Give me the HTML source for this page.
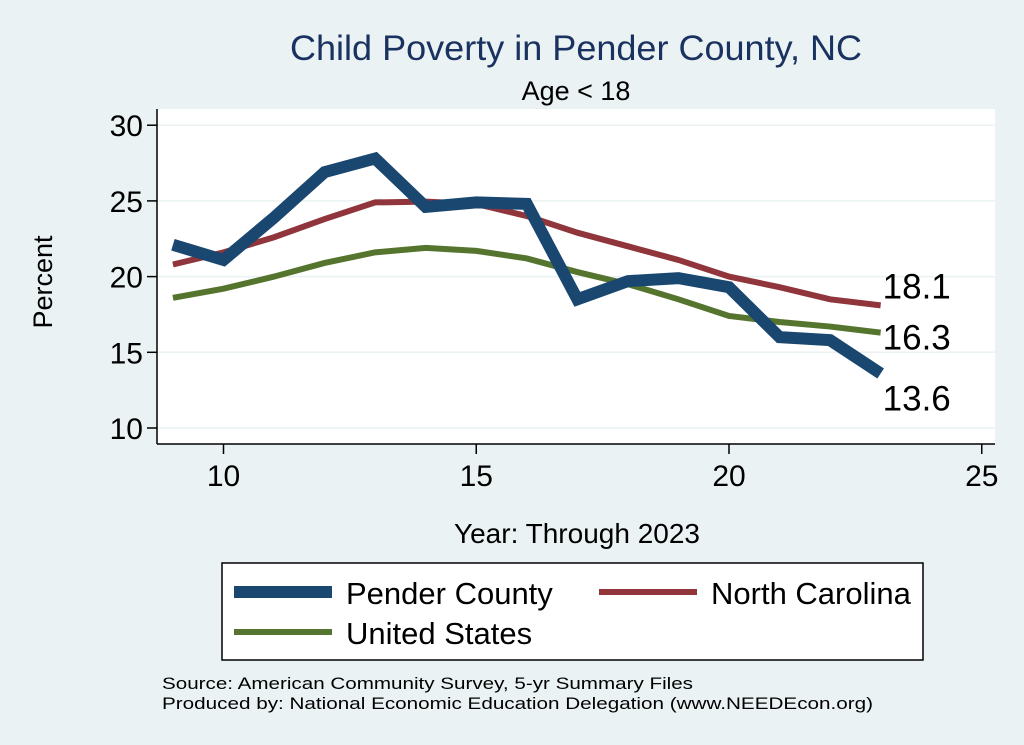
<!DOCTYPE html>
<html><head><meta charset="utf-8"><style>
body{margin:0;background:#eaf2f3;}
svg{display:block;font-family:"Liberation Sans",Arial,sans-serif;}
</style></head><body>
<svg id="chart" width="1024" height="745" viewBox="0 0 1024 745">
<rect x="0" y="0" width="1024" height="745" fill="#eaf2f3"/>
<text x="576" y="60" font-size="35" fill="#1a3260" text-anchor="middle" textLength="572" lengthAdjust="spacingAndGlyphs">Child Poverty in Pender County, NC</text>
<text x="576" y="100" font-size="27" fill="#000" text-anchor="middle">Age &lt; 18</text>
<rect x="157" y="109" width="838" height="335" fill="#fff"/>
<g id="grid"></g>
<g id="axes"></g>
<g id="series"></g>
<text x="52" y="282" font-size="27" text-anchor="middle" transform="rotate(-90 52 282)">Percent</text>
<text x="577" y="543" font-size="28" text-anchor="middle">Year: Through 2023</text>
<g>
<rect x="222" y="563" width="701" height="97" fill="#fff" stroke="#000" stroke-width="1.5"/>
<g><line x1="234" y1="592" x2="332" y2="592" stroke="#1a476f" stroke-width="12"/><text x="346" y="604" font-size="31">Pender County</text></g>
<g><line x1="599" y1="592" x2="697" y2="592" stroke="#90353b" stroke-width="6"/><text x="711" y="604" font-size="31">North Carolina</text></g>
<g><line x1="234" y1="632" x2="332" y2="632" stroke="#55752f" stroke-width="6"/><text x="346" y="644" font-size="31">United States</text></g>
</g>
<text x="162" y="689" font-size="17" textLength="531" lengthAdjust="spacingAndGlyphs">Source: American Community Survey, 5-yr Summary Files</text>
<text x="162" y="709" font-size="17" textLength="711" lengthAdjust="spacingAndGlyphs">Produced by: National Economic Education Delegation (www.NEEDEcon.org)</text>
</svg>
<script>
const years=[9,10,11,12,13,14,15,16,17,18,19,20,21,22,23];
const pender=[22.1,21.1,23.9,26.9,27.8,24.6,24.9,24.8,18.5,19.7,19.9,19.3,16.0,15.8,13.6];
const northCarolina=[20.8,21.6,22.6,23.8,24.9,24.95,24.8,24.0,22.9,22.0,21.1,20.0,19.3,18.5,18.1];
const unitedStates=[18.6,19.2,20.0,20.9,21.6,21.9,21.7,21.2,20.3,19.5,18.5,17.4,17.0,16.7,16.3];
const xTicks=[10,15,20,25];
const yTicks=[10,15,20,25,30];
const endLabels=["13.6","18.1","16.3"];
const NS="http://www.w3.org/2000/svg";
function xs(v){return 223.5+(v-10)*50.55;}
function ys(v){return 428-(v-10)*15.14;}
function mk(t,a,p){const e=document.createElementNS(NS,t);for(const k in a)e.setAttribute(k,a[k]);p.appendChild(e);return e;}
const grid=document.getElementById('grid'),axes=document.getElementById('axes'),ser=document.getElementById('series');
yTicks.forEach(t=>{
 const g=mk('line',{x1:157,x2:995,y1:ys(t),y2:ys(t),stroke:'#eaf2f3','stroke-width':1.5},grid);
 
 
 const tk=mk('line',{x1:147,x2:157,y1:ys(t),y2:ys(t),stroke:'#000','stroke-width':1.5},axes);
 
 
 const tx=mk('text',{x:143,y:ys(t)+11,'font-size':30,'text-anchor':'end'},axes);
 tx.textContent=t;
 
 
});
xTicks.forEach(t=>{
 const tk=mk('line',{x1:xs(t),x2:xs(t),y1:444,y2:454,stroke:'#000','stroke-width':1.5},axes);
 
 
 const tx=mk('text',{x:xs(t),y:486,'font-size':30,'text-anchor':'middle'},axes);
 tx.textContent=t;
 
 
});
const ya=mk('line',{x1:157,x2:157,y1:109,y2:444,stroke:'#000','stroke-width':1.5},axes);


const xa=mk('line',{x1:157,x2:995,y1:444,y2:444,stroke:'#000','stroke-width':1.5},axes);


function line(vals,color,w,name){
 const p=mk('polyline',{points:vals.map((v,i)=>xs(years[i])+','+ys(v)).join(' '),fill:'none',stroke:color,'stroke-width':w,'stroke-linejoin':'miter'},ser);
 
 
}
line(unitedStates,'#55752f',6,'us-line');
line(northCarolina,'#90353b',6,'nc-line');
line(pender,'#1a476f',12,'pender-line');
const last=years.length-1;
const lbl=[[pender[last],endLabels[0],37],[northCarolina[last],endLabels[1],-7],[unitedStates[last],endLabels[2],17]];
lbl.forEach(l=>{
 const t=mk('text',{x:xs(years[last])+2,y:ys(l[0])+l[2],'font-size':35},ser);
 t.textContent=l[1];
 
 
});
</script>
</body></html>
